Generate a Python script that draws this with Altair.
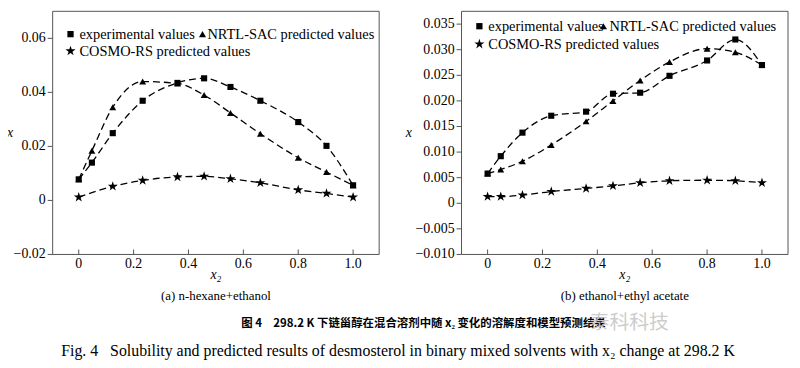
import altair as alt
import pandas as pd

series_names = ["experimental values", "NRTL-SAC predicted values", "COSMO-RS predicted values"]
STAR = ("M0,-1L0.2245,-0.309L0.951,-0.309L0.363,0.118L0.588,0.809L0,0.382L-0.588,0.809"
        "L-0.363,0.118L-0.951,-0.309L-0.2245,-0.309Z")
shapes = ["square", "triangle-up", STAR]
marker_sizes = [38, 48, 110]

# panel (a) n-hexane + ethanol
a_x2 = [0, 0.048, 0.124, 0.233, 0.36, 0.457, 0.553, 0.662, 0.80, 0.903, 1.0]
a_exp = [0.0078, 0.0140, 0.0249, 0.0369, 0.0435, 0.0452, 0.0420, 0.0369, 0.0290, 0.0202, 0.0056]
a_nrtl = [0.0078, 0.0184, 0.0345, 0.0440, 0.0433, 0.0390, 0.0324, 0.0247, 0.0158, 0.0105, 0.0056]
a_cosmo = [0.0012, None, 0.0052, 0.0074, 0.0087, 0.0089, 0.0080, 0.0065, 0.0039, 0.0026, 0.0012]

# panel (b) ethanol + ethyl acetate
b_x2 = [0, 0.048, 0.127, 0.232, 0.359, 0.457, 0.556, 0.663, 0.80, 0.903, 1.0]
b_exp = [0.0058, 0.0092, 0.0138, 0.0171, 0.0179, 0.0214, 0.0216, 0.0249, 0.0279, 0.0320, 0.0270]
b_nrtl = [0.0058, 0.0066, 0.0082, 0.0114, 0.0160, 0.0200, 0.0240, 0.0276, 0.0302, 0.0295, 0.0270]
b_cosmo = [0.0013, 0.0013, 0.0016, 0.0023, 0.0029, 0.0034, 0.0040, 0.0044, 0.0045, 0.0044, 0.0040]

x_ticks = [0, 0.2, 0.4, 0.6, 0.8, 1.0]
a_yticks = [-0.02, 0, 0.02, 0.04, 0.06]
b_yticks = [-0.010, -0.005, 0, 0.005, 0.010, 0.015, 0.020, 0.025, 0.030, 0.035]
a_ydomain = [-0.02, 0.07]
b_ydomain = [-0.010, 0.0375]
x_domain = [-0.095, 1.095]

subtitles = ["(a) n-hexane+ethanol", "(b) ethanol+ethyl acetate"]
cn_caption = "图 4\u3000298.2 K 下链甾醇在混合溶剂中随 x₂ 变化的溶解度和模型预测结果"
en_caption = ("Fig. 4\u00a0\u00a0\u00a0Solubility and predicted results of desmosterol in binary "
              "mixed solvents with x₂ change at 298.2 K")
watermark = "泰科科技"

SERIF = "Liberation Serif, Times New Roman, serif"
CW, CH = 790, 352            # whole drawing area
PANEL_W, PANEL_H = 329, 245  # each panel's frame
LEFT_A, LEFT_B, TOP = 45, 457, 2
PX = PANEL_W / (x_domain[1] - x_domain[0])       # pixels per x2 unit
OFF_B = (LEFT_B - LEFT_A) / PX                   # x shift of panel (b)
X_MIN = x_domain[0] - LEFT_A / PX
X_MAX = X_MIN + CW / PX
Y_MIN = -(CH - TOP - PANEL_H) / PANEL_H
Y_MAX = 1 + TOP / PANEL_H

off_expr = f"(datum.panel == 'a' ? 0 : {OFF_B})"
xp_expr = f"datum.xv + {off_expr}"
yn_expr = (f"datum.panel == 'a' ? (datum.val - ({a_ydomain[0]})) / {a_ydomain[1] - a_ydomain[0]}"
           f" : (datum.val - ({b_ydomain[0]})) / {b_ydomain[1] - b_ydomain[0]}")

xs = alt.Scale(domain=[X_MIN, X_MAX], nice=False, zero=False)
ys = alt.Scale(domain=[Y_MIN, Y_MAX], nice=False, zero=False)
FRAME = "#555"

# ---- data series
rows = []
for panel, x2, sets in [("a", a_x2, [a_exp, a_nrtl, a_cosmo]), ("b", b_x2, [b_exp, b_nrtl, b_cosmo])]:
    for name, vals in zip(series_names, sets):
        for xi, yi in zip(x2, vals):
            if yi is not None:
                rows.append({"panel": panel, "series": name, "xv": xi, "val": yi})
df = pd.DataFrame(rows)

base = alt.Chart(df).transform_calculate(xp=xp_expr, yn=yn_expr)
X = alt.X("xp:Q", scale=xs, axis=None)
Y = alt.Y("yn:Q", scale=ys, axis=None)

point_layers = []
for name, shp, sz in zip(series_names, shapes, marker_sizes):
    point_layers.append(base.transform_filter(alt.datum.series == name).mark_point(
        filled=True, color="black", opacity=1, shape=shp, size=sz).encode(x=X, y=Y))

line_layers = []
for p in ["a", "b"]:
    for name in series_names:
        line_layers.append(base.transform_filter(
            (alt.datum.series == name) & (alt.datum.panel == p)
        ).mark_line(interpolate="monotone", strokeDash=[7, 4], color="black",
                    strokeWidth=1.3).encode(x=X, y=Y))

# ---- frames
frame_df = pd.DataFrame({"panel": ["a", "b"]})
frames = alt.Chart(frame_df).transform_calculate(
    xl=f"{x_domain[0]} + {off_expr}", xr=f"{x_domain[1]} + {off_expr}", y0="0", y1="1"
).mark_rect(fillOpacity=0, stroke=FRAME, strokeWidth=1).encode(
    x=alt.X("xl:Q", scale=xs, axis=None), x2="xr:Q",
    y=alt.Y("y0:Q", scale=ys, axis=None), y2="y1:Q")

# ---- y axes
yt_df = pd.DataFrame([{"panel": "a", "val": v} for v in a_yticks] +
                     [{"panel": "b", "val": v} for v in b_yticks])
yt_base = alt.Chart(yt_df).transform_calculate(
    yn=yn_expr, xl=f"{x_domain[0]} + {off_expr}", xt=f"{x_domain[0]} + {off_expr} - {5 / PX}",
    lab="datum.val == 0 ? '0' : format(datum.val, datum.panel == 'a' ? '.2f' : '.3f')")
y_ticks = yt_base.mark_rule(color=FRAME, strokeWidth=1).encode(
    x=alt.X("xl:Q", scale=xs, axis=None), x2="xt:Q", y=alt.Y("yn:Q", scale=ys, axis=None))
y_labels = yt_base.mark_text(align="right", baseline="middle", dx=-7, font=SERIF, fontSize=14,
                             color="black").encode(
    x=alt.X("xl:Q", scale=xs, axis=None), y=alt.Y("yn:Q", scale=ys, axis=None), text="lab:N")

# ---- x axes
xt_df = pd.DataFrame([{"panel": p, "xv": v} for p in ["a", "b"] for v in x_ticks])
xt_base = alt.Chart(xt_df).transform_calculate(
    xp=xp_expr, y0="0", y1=f"{5 / PANEL_H}",
    lab="datum.xv == 0 ? '0' : format(datum.xv, '.1f')")
x_tickmarks = xt_base.mark_rule(color=FRAME, strokeWidth=1).encode(
    x=alt.X("xp:Q", scale=xs, axis=None), y=alt.Y("y0:Q", scale=ys, axis=None), y2="y1:Q")
x_labels = xt_base.mark_text(baseline="middle", dy=10, font=SERIF, fontSize=14,
                             color="black").encode(
    x=alt.X("xp:Q", scale=xs, axis=None), y=alt.Y("y0:Q", scale=ys, axis=None), text="lab:N")

# ---- axis titles and panel captions
t_df = pd.DataFrame({"panel": ["a", "b"], "sub": subtitles})
t_base = alt.Chart(t_df).transform_calculate(
    xc=f"{(x_domain[0] + x_domain[1]) / 2} + {off_expr}", xl=f"{x_domain[0]} + {off_expr}",
    y0="0", ym="0.5", xt="'x₂'", yt="'x'")
x_titles = t_base.mark_text(baseline="middle", dy=21, font=SERIF, fontSize=14, fontStyle="italic",
                            color="black").encode(
    x=alt.X("xc:Q", scale=xs, axis=None), y=alt.Y("y0:Q", scale=ys, axis=None), text="xt:N")
sub_titles = t_base.mark_text(baseline="middle", dy=42, font=SERIF, fontSize=13,
                              color="black").encode(
    x=alt.X("xc:Q", scale=xs, axis=None), y=alt.Y("y0:Q", scale=ys, axis=None), text="sub:N")
y_title_a = t_base.transform_filter("datum.panel == 'a'").mark_text(
    baseline="middle", dx=-43, font=SERIF, fontSize=14, fontStyle="italic", color="black").encode(
    x=alt.X("xl:Q", scale=xs, axis=None), y=alt.Y("ym:Q", scale=ys, axis=None), text="yt:N")
y_title_b = t_base.transform_filter("datum.panel == 'b'").mark_text(
    baseline="middle", dx=-53, font=SERIF, fontSize=14, fontStyle="italic", color="black").encode(
    x=alt.X("xl:Q", scale=xs, axis=None), y=alt.Y("ym:Q", scale=ys, axis=None), text="yt:N")

# ---- legends (pixel placement inside each frame)
legend_pos = {
    "a": [(63, 25, 72), (196, 25, 201), (63, 42, 72)],
    "b": [(475, 17, 484), (600, 17, 606), (475, 35, 484)],
}
legend_texts, legend_symbols = [], []
for p in ["a", "b"]:
    for name, shp, sz, (sx, sy, tx) in zip(series_names, shapes, marker_sizes, legend_pos[p]):
        one = pd.DataFrame({"s": [name]})
        legend_symbols.append(alt.Chart(one).mark_point(
            filled=True, color="black", opacity=1, shape=shp, size=sz * 1.05
        ).encode(x=alt.value(sx), y=alt.value(sy)))
        legend_texts.append(alt.Chart(one).mark_text(
            align="left", baseline="middle", font=SERIF, fontSize=14.5, color="black"
        ).encode(x=alt.value(tx), y=alt.value(sy + 1), text="s:N"))

# ---- figure captions
cap_df = pd.DataFrame({"cn": [cn_caption], "en": [en_caption], "wm": [watermark]})
cap_cn = alt.Chart(cap_df).mark_text(
    align="left", baseline="middle", font="Noto Sans CJK SC", fontSize=11.5, fontWeight="bold",
    color="black").encode(x=alt.value(235), y=alt.value(317), text="cn:N")
cap_wm = alt.Chart(cap_df).mark_text(
    align="left", baseline="middle", font="Noto Sans CJK SC", fontSize=20, color="#c8c8c8",
    opacity=0.9).encode(x=alt.value(586), y=alt.value(316), text="wm:N")
cap_en = alt.Chart(cap_df).mark_text(
    align="center", baseline="middle", font=SERIF, fontSize=16, color="black").encode(
    x=alt.value(393), y=alt.value(344), text="en:N")

chart = alt.layer(
    frames, y_ticks, x_tickmarks, y_labels, x_labels, x_titles, sub_titles, y_title_a, y_title_b,
    cap_cn, cap_wm, cap_en, *legend_texts, *legend_symbols, *point_layers, *line_layers
).properties(
    width=CW, height=CH, padding=0, autosize=alt.AutoSizeParams(type="none")
).configure_view(stroke="transparent", strokeWidth=0)

chart.save("out.html", embed_options={"renderer": "svg", "actions": False})
